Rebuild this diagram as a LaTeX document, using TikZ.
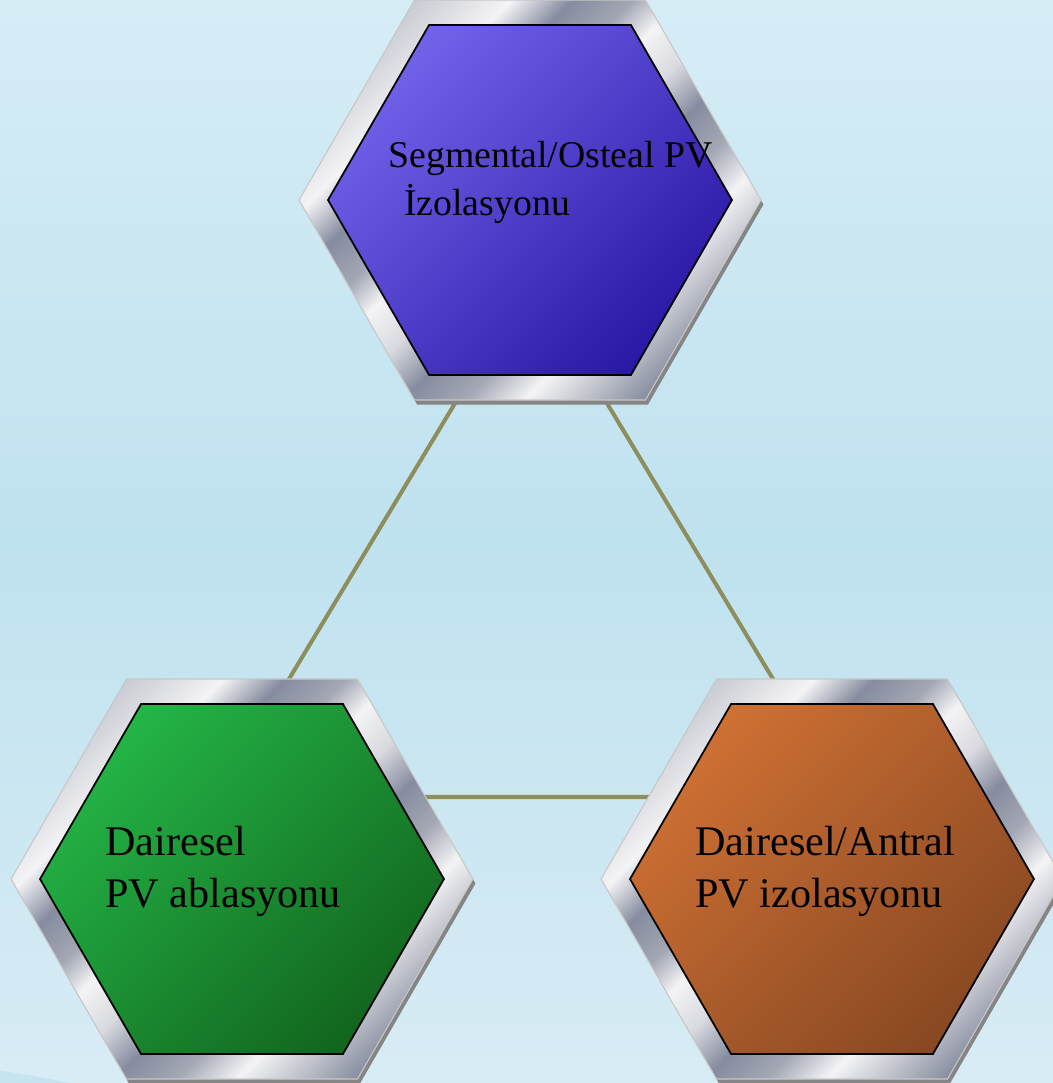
\documentclass[tikz,border=0pt]{standalone}
\usepackage{fontspec}
\setmainfont{Liberation Serif}
\usetikzlibrary{shapes.geometric,shadows}

\definecolor{bgtop}{HTML}{D6EDF6}
\definecolor{bgmid}{HTML}{BFE2EF}
\definecolor{bgbot}{HTML}{D8ECF5}
\definecolor{swoosh}{HTML}{C6E3F0}
\definecolor{linkcol}{HTML}{8E8E5C}
\definecolor{chrA}{HTML}{F4F4F6}
\definecolor{chrB}{HTML}{BEC1CA}
\definecolor{chrC}{HTML}{868CA0}
\definecolor{chrD}{HTML}{D9DADF}
\definecolor{chrE}{HTML}{A3A7B4}
\definecolor{blueA}{HTML}{7262EA}
\definecolor{blueB}{HTML}{2A18A6}
\definecolor{greenA}{HTML}{24B446}
\definecolor{greenB}{HTML}{12661E}
\definecolor{orangeA}{HTML}{CE7034}
\definecolor{orangeB}{HTML}{884822}

\pgfdeclarehorizontalshading{chrome}{100bp}{color(0bp)=(chrB); color(22bp)=(chrB);
  color(27bp)=(chrD); color(32bp)=(chrA); color(37bp)=(chrC); color(42bp)=(chrE);
  color(46bp)=(chrA); color(51bp)=(chrD); color(56bp)=(chrC); color(61bp)=(chrE);
  color(66bp)=(chrA); color(71bp)=(chrB); color(76bp)=(chrC); color(100bp)=(chrE)}

\begin{document}
\begin{tikzpicture}[x=0.02cm, y=-0.02cm,
  frame/.style={regular polygon, regular polygon sides=6, minimum size=9.24cm,
    inner sep=0pt, outer sep=0pt, shading=chrome, shading angle=-45,
    draw=black!22, line width=0.6pt,
    drop shadow={shadow xshift=0.05cm, shadow yshift=-0.09cm, opacity=1, fill=black!48}},
  core/.style={regular polygon, regular polygon sides=6, minimum size=8.08cm,
    inner sep=0pt, outer sep=0pt, draw=black, line width=1pt},
  txt/.style={anchor=base west, align=left, inner sep=0pt},
  link/.style={linkcol, line width=2.3pt}]

\useasboundingbox (0,0) rectangle (1053,1083);
\clip (0,0) rectangle (1053,1083);

% background
\fill[top color=bgtop, bottom color=bgbot, middle color=bgmid] (0,0) rectangle (1053,1083);
\fill[swoosh] (0,1071) .. controls (25,1074) and (45,1078) .. (70,1083) -- (0,1083) -- cycle;

\node[coordinate] (v1) at (530,200) {};
\node[coordinate] (v2) at (242,879) {};
\node[coordinate] (v3) at (832,879) {};

\node[coordinate] (c1) at (531,277) {};
\node[coordinate] (c2) at (218,797) {};
\node[coordinate] (c3) at (844,797) {};

\draw[link] (c1) -- (c2) -- (c3) -- cycle;

\node[frame] (f1) at (v1) {};
\node[frame] (f2) at (v2) {};
\node[frame] (f3) at (v3) {};

\node[core, top color=blueA, bottom color=blueB, shading angle=45] (h1) at (v1) {};
\node[core, top color=greenA, bottom color=greenB, shading angle=45] (h2) at (v2) {};
\node[core, top color=orangeA, bottom color=orangeB, shading angle=45] (h3) at (v3) {};

% base anchor sits on the last line
\node[txt, font=\fontsize{21.5pt}{27.3pt}\selectfont] (t1) at (388,215) {Segmental/Osteal PV\\\hspace*{9pt}İzolasyonu};
\node[txt, font=\fontsize{24pt}{29.6pt}\selectfont] (t2) at (105,907) {Dairesel\\PV ablasyonu};
\node[txt, font=\fontsize{24pt}{29.6pt}\selectfont] (t3) at (695,907) {Dairesel/Antral\\PV izolasyonu};

\end{tikzpicture}
\end{document}
